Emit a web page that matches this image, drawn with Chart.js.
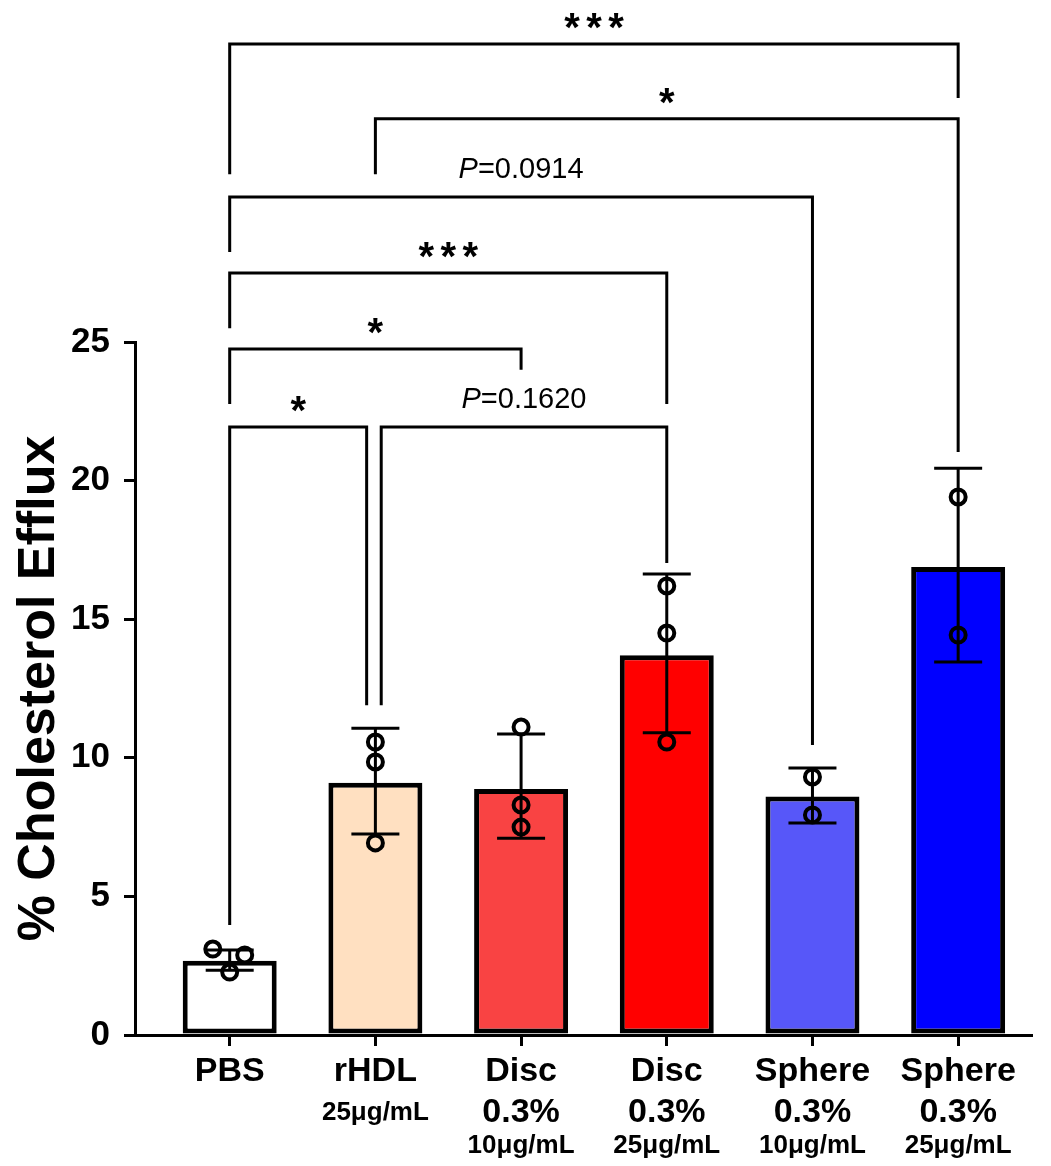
<!DOCTYPE html>
<html>
<head>
<meta charset="utf-8">
<script src="https://cdn.jsdelivr.net/npm/chart.js@4.4.0/dist/chart.umd.min.js"></script>
<style>
  html, body { margin: 0; padding: 0; background: #fff; }
</style>
</head>
<body>
<canvas id="grafico" width="1051" height="1166"></canvas>
<script>
const grupos = ['PBS', 'rHDL', 'Disc', 'Disc', 'Sphere', 'Sphere'];
const porcentajes = ['', '', '0.3%', '0.3%', '0.3%', '0.3%'];
const dosis = ['', '25μg/mL', '10μg/mL', '25μg/mL', '10μg/mL', '25μg/mL'];
const medias = [2.68, 9.1, 8.87, 13.7, 8.6, 16.88];
const errorAlto = [3.07, 11.07, 10.86, 16.63, 9.63, 20.45];
const errorBajo = [2.34, 7.25, 7.1, 10.9, 7.65, 13.46];
const coloresBarras = ['#FFFFFF', '#FFE0C1', '#F94343', '#FF0000', '#5757F9', '#0000FF'];

// replicas individuales: grupo, desplazamiento en x, valor
const puntosGrupo = [0, 0, 0, 1, 1, 1, 2, 2, 2, 3, 3, 3, 4, 4, 5, 5];
const puntosDesplaz = [-0.116, 0.103, 0, 0, 0, 0, 0, 0, 0, 0, 0, 0, 0, 0, 0, 0];
const puntosValor = [3.1, 2.89, 2.27, 10.57, 9.85, 6.93, 11.11, 8.3, 7.5, 16.2, 14.5, 10.57, 9.31, 7.94, 19.41, 14.43];

const yTicks = [0, 5, 10, 15, 20, 25];

// llaves de significancia
const llaveDesde = [0, 1, 0, 0, 0, 0, 1.04];
const llaveHasta = [5, 5, 4, 3, 2, 0.94, 3];
const llaveAltura = [35.75, 33.05, 30.23, 27.49, 24.75, 21.93, 21.93];
const llavePataDesde = [31.05, 31.05, 28.25, 25.5, 22.76, 3.97, 11.9];
const llavePataHasta = [33.8, 21.03, 10.46, 22.76, 24.0, 11.9, 17.03];
const llaveTexto = ['***', '*', 'P=0.0914', '***', '*', '*', 'P=0.1620'];

const fuente = '"Liberation Sans", Arial, sans-serif';

const barrasError = {
    id: 'barrasError',
    afterDatasetDraw(chart, args) {
        if (args.index !== 0) return;
        const { ctx, scales: { x, y } } = chart;
        ctx.save();
        ctx.strokeStyle = '#000';
        ctx.lineWidth = 3;
        medias.forEach((m, i) => {
            const px = x.getPixelForValue(i);
            const alto = y.getPixelForValue(errorAlto[i]);
            const bajo = y.getPixelForValue(errorBajo[i]);
            ctx.beginPath();
            ctx.moveTo(px, alto); ctx.lineTo(px, bajo);
            ctx.moveTo(px - 24, alto); ctx.lineTo(px + 24, alto);
            ctx.moveTo(px - 24, bajo); ctx.lineTo(px + 24, bajo);
            ctx.stroke();
        });
        ctx.restore();
    }
};

function dibujarEstrellas(ctx, texto, cx, cy) {
    ctx.font = 'bold 40px ' + fuente;
    ctx.textAlign = 'center';
    ctx.textBaseline = 'alphabetic';
    const m = ctx.measureText('*');
    const base = cy + (m.actualBoundingBoxAscent - m.actualBoundingBoxDescent) / 2;
    const n = texto.length;
    for (let k = 0; k < n; k++) {
        ctx.fillText('*', cx + (k - (n - 1) / 2) * 22, base);
    }
}

function dibujarP(ctx, texto, cx, base) {
    const resto = texto.slice(1);
    ctx.textBaseline = 'alphabetic';
    ctx.textAlign = 'left';
    ctx.font = 'italic 29px ' + fuente;
    const wP = ctx.measureText('P').width;
    ctx.font = '29px ' + fuente;
    const wR = ctx.measureText(resto).width;
    const x0 = cx - (wP + wR) / 2;
    ctx.font = 'italic 29px ' + fuente;
    ctx.fillText('P', x0, base);
    ctx.font = '29px ' + fuente;
    ctx.fillText(resto, x0 + wP, base);
}

const anotaciones = {
    id: 'anotaciones',
    afterDraw(chart) {
        const { ctx, scales: { x, y }, chartArea } = chart;
        ctx.save();
        ctx.strokeStyle = '#000';
        ctx.fillStyle = '#000';
        ctx.lineWidth = 3;
        ctx.lineJoin = 'miter';
        llaveTexto.forEach((t, k) => {
            const x1 = x.getPixelForValue(llaveDesde[k]);
            const x2 = x.getPixelForValue(llaveHasta[k]);
            const yt = y.getPixelForValue(llaveAltura[k]);
            ctx.beginPath();
            ctx.moveTo(x1, y.getPixelForValue(llavePataDesde[k]));
            ctx.lineTo(x1, yt);
            ctx.lineTo(x2, yt);
            ctx.lineTo(x2, y.getPixelForValue(llavePataHasta[k]));
            ctx.stroke();
            const cx = (x1 + x2) / 2;
            if (t.startsWith('P')) dibujarP(ctx, t, cx, yt - 19);
            else dibujarEstrellas(ctx, t, cx, yt - 23);
        });

        // etiquetas del eje x
        const fondo = chartArea.bottom;
        ctx.textAlign = 'center';
        ctx.textBaseline = 'alphabetic';
        grupos.forEach((g, i) => {
            const px = x.getPixelForValue(i);
            ctx.font = 'bold 34px ' + fuente;
            ctx.fillText(g, px, fondo + 46);
            if (porcentajes[i]) {
                ctx.fillText(porcentajes[i], px, fondo + 87);
                ctx.font = 'bold 26px ' + fuente;
                ctx.fillText(dosis[i], px, fondo + 118);
            } else if (dosis[i]) {
                ctx.font = 'bold 26px ' + fuente;
                ctx.fillText(dosis[i], px, fondo + 85);
            }
        });
        ctx.restore();
    }
};

const ctx = document.getElementById('grafico').getContext('2d');
new Chart(ctx, {
    data: {
        datasets: [
            {
                type: 'bar',
                data: medias.map((v, i) => ({ x: i, y: v })),
                backgroundColor: coloresBarras,
                borderColor: '#000',
                borderWidth: 5,
                borderSkipped: false,
                barPercentage: 0.645,
                categoryPercentage: 1,
                order: 2
            },
            {
                type: 'scatter',
                data: puntosValor.map((v, k) => ({ x: puntosGrupo[k] + puntosDesplaz[k], y: v })),
                pointRadius: 7.5,
                pointBorderWidth: 4,
                borderColor: '#000',
                backgroundColor: 'rgba(0,0,0,0)',
                order: 1
            }
        ]
    },
    options: {
        responsive: false,
        animation: false,
        layout: { padding: { top: 342, right: 20, left: 0, bottom: 0 } },
        plugins: {
            legend: { display: false },
            tooltip: { enabled: false }
        },
        scales: {
            x: {
                type: 'linear',
                min: -0.65,
                max: 5.5,
                offset: false,
                afterBuildTicks: s => { s.ticks = grupos.map((g, i) => ({ value: i })); },
                afterFit: s => { s.height = 131; },
                ticks: { display: false },
                grid: { offset: false, drawOnChartArea: false, drawTicks: true, tickLength: 11, color: '#000', lineWidth: 3 },
                border: { color: '#000', width: 3 }
            },
            y: {
                type: 'linear',
                min: 0,
                max: 25,
                afterBuildTicks: s => { s.ticks = yTicks.map(v => ({ value: v })); },
                afterFit: s => { s.width = 135; },
                ticks: { font: { family: fuente, size: 35, weight: 'bold' }, color: '#000', padding: 14 },
                grid: { drawOnChartArea: false, tickLength: 11, color: '#000', lineWidth: 3 },
                border: { color: '#000', width: 3 },
                title: {
                    display: true,
                    text: '% Cholesterol Efflux',
                    font: { family: fuente, size: 52, weight: 'bold' },
                    color: '#000',
                    padding: { top: 8, bottom: 0 }
                }
            }
        }
    },
    plugins: [barrasError, anotaciones]
});
</script>
</body>
</html>
